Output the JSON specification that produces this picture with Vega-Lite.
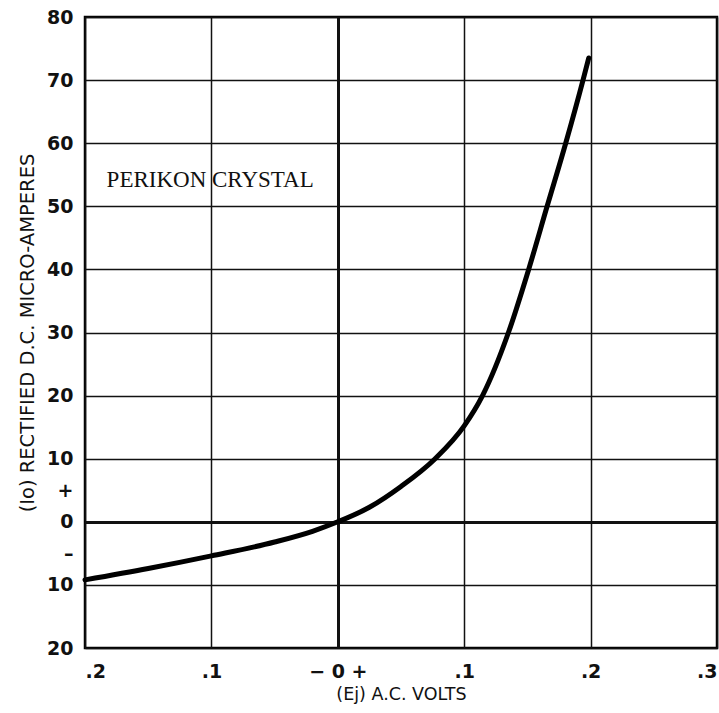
{
  "$schema": "https://vega.github.io/schema/vega-lite/v6.json",
  "autosize": "none",
  "width": 632,
  "height": 631,
  "padding": {"left": 85, "top": 17, "right": 2, "bottom": 65},
  "background": "white",
  "config": {
    "view": {"stroke": "black", "strokeWidth": 2.5},
    "axis": {
      "domain": false,
      "ticks": false,
      "gridColor": "#111",
      "gridOpacity": 1,
      "labelFont": "DejaVu Sans",
      "labelFontWeight": "bold",
      "labelFontSize": 19,
      "labelColor": "#111",
      "titleFont": "DejaVu Sans",
      "titleFontWeight": "normal",
      "titleColor": "#111"
    }
  },
  "datasets": {
    "curve": [
      {"volts": -0.2, "current": -9.2},
      {"volts": -0.15, "current": -7.4},
      {"volts": -0.1, "current": -5.4},
      {"volts": -0.05, "current": -3.2},
      {"volts": -0.02, "current": -1.5},
      {"volts": 0, "current": 0},
      {"volts": 0.025, "current": 2.3},
      {"volts": 0.05, "current": 5.6},
      {"volts": 0.077, "current": 10},
      {"volts": 0.1, "current": 15.2},
      {"volts": 0.1145, "current": 20},
      {"volts": 0.135, "current": 30},
      {"volts": 0.151, "current": 40},
      {"volts": 0.1656, "current": 50},
      {"volts": 0.1803, "current": 60},
      {"volts": 0.194, "current": 70},
      {"volts": 0.1985, "current": 73.5}
    ],
    "label": [{"volts": -0.101, "current": 54.1, "text": "PERIKON CRYSTAL"}]
  },
  "layer": [
    {
      "data": {"name": "curve"},
      "mark": {"type": "line", "interpolate": "monotone", "color": "black", "strokeWidth": 5, "strokeCap": "round"},
      "encoding": {
        "x": {
          "field": "volts", "type": "quantitative",
          "scale": {"domain": [-0.2, 0.3], "nice": false, "zero": false},
          "axis": {
            "values": [-0.2, -0.1, 0, 0.1, 0.2, 0.3],
            "labelExpr": "datum.value == 0 ? '− 0 +' : replace(format(abs(datum.value), '.1f'), '0.', '.')",
            "labelPadding": 14,
            "title": "(Ej) A.C. VOLTS",
            "titleFontSize": 17.5,
            "titlePadding": 4,
            "gridWidth": {"condition": {"test": "datum.value == 0", "value": 3}, "value": 1.5}
          }
        },
        "y": {
          "field": "current", "type": "quantitative",
          "scale": {"domain": [-20, 80], "nice": false},
          "axis": {
            "values": [-20, -10, -5, 0, 5, 10, 20, 30, 40, 50, 60, 70, 80],
            "labelExpr": "datum.value == 5 ? '+' : datum.value == -5 ? '–' : format(abs(datum.value), 'd')",
            "labelPadding": 12,
            "title": "(Io) RECTIFIED D.C.  MICRO-AMPERES",
            "titleFontSize": 19.5,
            "titlePadding": 9,
            "gridWidth": {"condition": {"test": "datum.value == 0", "value": 3}, "value": 1.5},
            "gridOpacity": {"condition": {"test": "abs(datum.value) == 5", "value": 0}, "value": 1}
          }
        }
      }
    },
    {
      "data": {"name": "label"},
      "mark": {"type": "text", "font": "Liberation Serif", "fontSize": 23, "color": "#111", "align": "center", "baseline": "middle"},
      "encoding": {
        "x": {"field": "volts", "type": "quantitative"},
        "y": {"field": "current", "type": "quantitative"},
        "text": {"field": "text"}
      }
    }
  ]
}
